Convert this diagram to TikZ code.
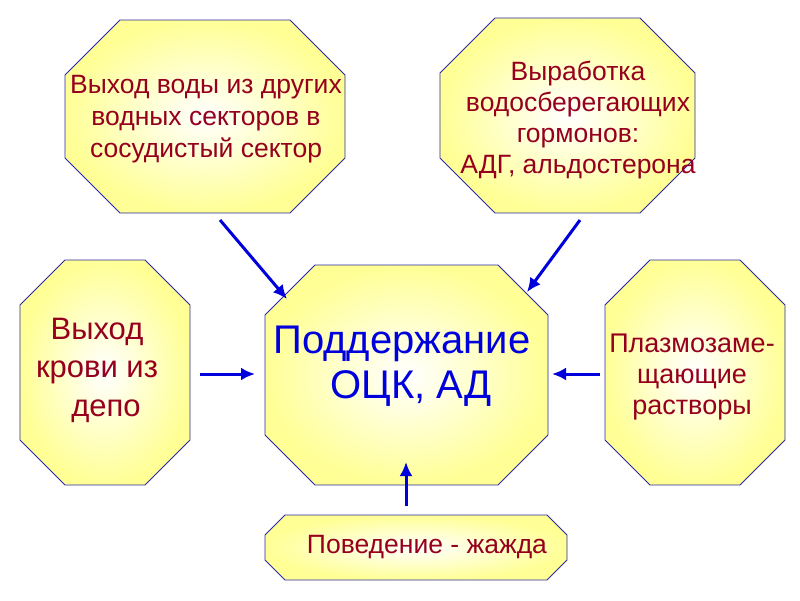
\documentclass[tikz,border=0pt]{standalone}
\usepackage{fontspec}
\setmainfont{Liberation Sans}
\definecolor{txtred}{RGB}{150,0,30}
\definecolor{edgeblue}{RGB}{40,40,160}
\definecolor{fillyel}{RGB}{255,255,150}
\definecolor{arrblue}{RGB}{0,0,220}
\newcommand\octo[5]{%
  \shade[inner color=white, outer color=fillyel, draw=edgeblue, line width=0.8pt]
  ({#1+#5},#2)--({#3-#5},#2)--(#3,{#2+#5})--(#3,{#4-#5})--({#3-#5},#4)--({#1+#5},#4)--(#1,{#4-#5})--(#1,{#2+#5})--cycle;}
\tikzset{lbl/.style={text=txtred, align=center, font=\fontsize{26.5}{32}\selectfont},
  arr/.style={-{Latex[length=14pt,width=13pt]}, arrblue, line width=3pt}}
\usetikzlibrary{arrows.meta}
\begin{document}
\begin{tikzpicture}[x=1pt,y=-1pt]
\useasboundingbox (0,0) rectangle (800,600);
\octo{65}{20}{345}{213}{55}
\octo{440}{18}{695}{213}{55}
\octo{20}{260}{190}{485}{45}
\octo{265}{265}{548}{485}{50}
\octo{605}{260}{785}{485}{45}
\octo{265}{515}{567}{580}{20}
\node[lbl] (tl) at (206,119) {Выход воды из других\\водных секторов в\\сосудистый сектор};
\node[lbl, font=\fontsize{26.5}{31}\selectfont] (tr) at (578,120) {Выработка\\водосберегающих\\гормонов:\\АДГ, альдостерона};
\node[lbl, font=\fontsize{31}{38.5}\selectfont] (l) at (97,370) {Выход\\крови из\\\hspace*{18pt}депо};
\node[text=arrblue, align=center, font=\fontsize{40}{45}\selectfont] (c) at (402,366) {Поддержание\\\hspace*{18pt}ОЦК, АД};
\node[lbl, font=\fontsize{27}{31}\selectfont] (r) at (692,377) {Плазмозаме-\\щающие\\растворы};
\node[lbl] (b) at (427,547) {Поведение - жажда};
\coordinate (a1) at (220,220); \coordinate (b1) at (287,299);
\coordinate (a2) at (580,220); \coordinate (b2) at (527,292);
\coordinate (a3) at (200,374); \coordinate (b3) at (255,374);
\coordinate (a4) at (600,374); \coordinate (b4) at (552,374);
\coordinate (a5) at (406,506); \coordinate (b5) at (406,462);
\draw[arr] (a1)--(b1);
\draw[arr] (a2)--(b2);
\draw[arr] (a3)--(b3);
\draw[arr] (a4)--(b4);
\draw[arr] (a5)--(b5);
\end{tikzpicture}
\end{document}
